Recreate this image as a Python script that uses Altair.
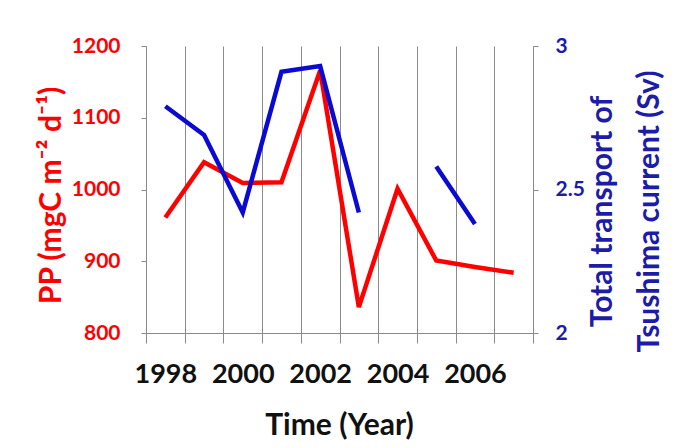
import altair as alt
import pandas as pd

years = [1998, 1999, 2000, 2001, 2002, 2003, 2004, 2005, 2006, 2007]
pp_values = [961, 1038, 1009, 1010, 1166, 836, 1001, 901, 892, 884]
transport_values = [2.79, 2.69, 2.42, 2.91, 2.93, 2.42, None, 2.58, 2.38, None]

pp_ticks = [800, 900, 1000, 1100, 1200]
sv_ticks = [2, 2.5, 3]

df = pd.DataFrame({"year": years, "pp": pp_values, "sv": transport_values})

FONT = "Lato"
RED = "#ff0000"
BLUE_LINE = "#0a0ad2"
BLUE_TEXT = "#1c1ca8"
GRAY = "#8a8a8a"

x_enc = alt.X(
    "year:O",
    bandPosition=0.5,
    scale=alt.Scale(type="band", paddingInner=0, paddingOuter=0),
    axis=alt.Axis(
        title="Time (Year)",
        tickBand="extent",
        labelExpr="datum.value % 2 == 0 ? datum.label : ''",
        labelAngle=0,
        labelFont=FONT, labelFontSize=27, labelFontWeight="bold", labelColor="#111111",
        labelPadding=18,
        tickSize=10, tickColor=GRAY, domainColor=GRAY,
        grid=True, gridColor=GRAY, gridWidth=1,
        titleFont=FONT, titleFontSize=30, titleFontWeight="bold", titleColor="#111111",
        titleX=193, titleY=92, titleBaseline="middle",
    ),
)

red = alt.Chart(df).mark_line(color=RED, strokeWidth=4.5, strokeJoin="miter").encode(
    x=x_enc,
    y=alt.Y(
        "pp:Q",
        scale=alt.Scale(domain=[800, 1200], nice=False, zero=False),
        axis=alt.Axis(
            orient="left", values=pp_ticks, grid=False, format="d",
            title="PP (mgC m\u207b\u00b2 d\u207b\u00b9)",
            labelFont=FONT, labelFontSize=21, labelFontWeight="bold", labelColor=RED,
            labelPadding=21, tickSize=5, tickColor=GRAY, domainColor=GRAY,
            titleFont=FONT, titleFontSize=30, titleFontWeight="bold", titleColor=RED,
            titleAngle=270, titleBaseline="middle", titleX=-95, titleY=149,
        ),
    ),
)

blue = alt.Chart(df).mark_line(
    color=BLUE_LINE, strokeWidth=4.5, strokeJoin="miter", invalid="break-paths-show-domains"
).encode(
    x=x_enc,
    y=alt.Y(
        "sv:Q",
        scale=alt.Scale(domain=[2, 3], nice=False, zero=False),
        axis=alt.Axis(
            orient="right", values=sv_ticks, grid=False, format="~g",
            title=["Total transport of", "Tsushima current (Sv)"],
            labelFont=FONT, labelFontSize=21, labelFontWeight="bold", labelColor=BLUE_TEXT,
            labelPadding=17, tickSize=5, tickColor=GRAY, domainColor=GRAY,
            titleFont=FONT, titleFontSize=30, titleFontWeight="bold", titleColor=BLUE_TEXT,
            titleAngle=270, titleBaseline="middle", titleLineHeight=47,
            titleX=69, titleY=165,
        ),
    ),
)

chart = (
    alt.layer(red, blue)
    .resolve_scale(y="independent")
    .properties(
        width=387,
        height=287,
        autosize=alt.AutoSizeParams(type="none"),
        padding={"left": 138, "top": 38, "right": 142, "bottom": 107},
        background="white",
    )
    .configure_view(stroke=None)
)

chart.save("out.html", embed_options={"renderer": "svg", "actions": False})
